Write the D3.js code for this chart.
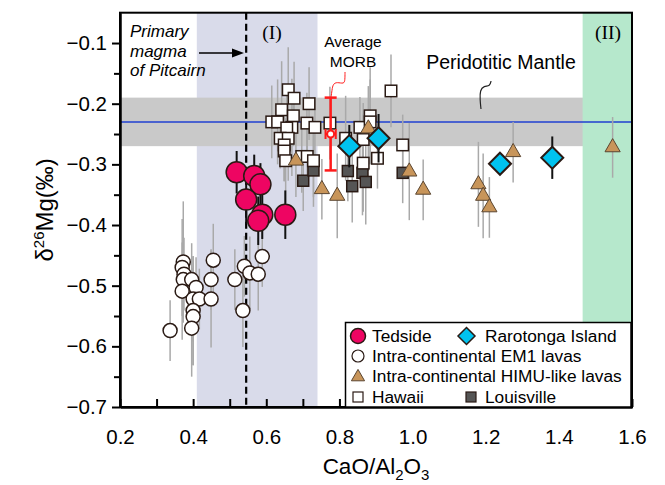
<!DOCTYPE html>
<html>
<head>
<meta charset="utf-8">
<script src="https://cdn.jsdelivr.net/npm/d3@7"></script>
<style>
  body, html { margin: 0; padding: 0; background: #fff; }
  svg { display: block; font-family: "Liberation Sans", Arial, sans-serif; }
</style>
</head>
<body>
<div id="container"></div>
<script>
// ---- data (CaO/Al2O3, d26Mg, 2SD) ----
var em1X = [0.337, 0.373, 0.370, 0.375, 0.373, 0.396, 0.408, 0.370, 0.400, 0.417, 0.449, 0.449, 0.455, 0.514, 0.540, 0.555, 0.578, 0.589, 0.536, 0.400, 0.400, 0.396];
var em1Y = [-0.574, -0.461, -0.470, -0.481, -0.490, -0.490, -0.503, -0.509, -0.522, -0.522, -0.522, -0.490, -0.458, -0.490, -0.468, -0.479, -0.481, -0.452, -0.541, -0.541, -0.551, -0.570];
var em1E = [0.05, 0.10, 0.08, 0.06, 0.07, 0.06, 0.05, 0.08, 0.07, 0.05, 0.08, 0.05, 0.06, 0.05, 0.05, 0.06, 0.06, 0.05, 0.06, 0.09, 0.08, 0.08];

var hawX = [0.660, 0.676, 0.717, 0.642, 0.674, 0.615, 0.631, 0.670, 0.656, 0.711, 0.733, 0.774, 0.638, 0.660, 0.649, 0.649, 0.653, 0.697, 0.712, 0.729, 0.817, 0.856, 0.865, 0.884, 0.884, 0.904, 0.865, 0.941, 0.973];
var hawY = [-0.177, -0.191, -0.200, -0.210, -0.220, -0.230, -0.230, -0.239, -0.240, -0.232, -0.239, -0.232, -0.257, -0.257, -0.268, -0.278, -0.294, -0.287, -0.287, -0.294, -0.257, -0.239, -0.259, -0.220, -0.230, -0.290, -0.298, -0.179, -0.268];
var hawE = [0.07, 0.06, 0.06, 0.08, 0.05, 0.06, 0.07, 0.08, 0.06, 0.05, 0.05, 0.06, 0.05, 0.07, 0.06, 0.05, 0.07, 0.06, 0.05, 0.06, 0.07, 0.05, 0.06, 0.08, 0.07, 0.05, 0.08, 0.06, 0.05];

var louX = [0.701, 0.729, 0.823, 0.835, 0.863, 0.872, 0.973];
var louY = [-0.327, -0.310, -0.311, -0.336, -0.314, -0.329, -0.314];
var louE = [0.05, 0.06, 0.05, 0.06, 0.07, 0.07, 0.05];

var himuX = [0.681, 0.752, 0.794, 0.879, 0.991, 1.029, 1.180, 1.193, 1.210, 1.275, 1.547];
var himuY = [-0.294, -0.341, -0.352, -0.241, -0.312, -0.342, -0.333, -0.352, -0.371, -0.280, -0.272];
var himuE = [0.06, 0.05, 0.07, 0.07, 0.08, 0.05, 0.07, 0.07, 0.05, 0.05, 0.05];

var raroX = [0.827, 0.907, 1.239, 1.382];
var raroY = [-0.270, -0.257, -0.299, -0.289];
var raroE = [0.035, 0.04, 0.015, 0.035];

var tedX = [0.519, 0.567, 0.584, 0.545, 0.589, 0.578, 0.652];
var tedY = [-0.313, -0.319, -0.333, -0.358, -0.383, -0.393, -0.383];
var tedE = [0.035, 0.035, 0.035, 0.04, 0.04, 0.04, 0.04];

var morb = [0.776, -0.25, 0.06, 0.014]; // x, y, 2SD y, 2SD x
var mantleMean = -0.23, mantleLo = -0.27, mantleHi = -0.19;
var zone1 = [0.41, 0.74], zone2 = [1.465, 1.6];
var pitcairnX = 0.545;

var xTicks = [0.2, 0.4, 0.6, 0.8, 1.0, 1.2, 1.4, 1.6];
var yTicks = [-0.7, -0.6, -0.5, -0.4, -0.3, -0.2, -0.1];

var W = 665, H = 485;
var margin = {top: 12.7, right: 33, bottom: 78, left: 120};
var pw = W - margin.left - margin.right, ph = H - margin.top - margin.bottom;

var svg = d3.select("#container").append("svg").attr("width", W).attr("height", H);
var g = svg.append("g").attr("transform", "translate(" + margin.left + "," + margin.top + ")");

var x = d3.scaleLinear().domain([0.2, 1.6]).range([0, pw]);
var y = d3.scaleLinear().domain([-0.7, -0.05]).range([ph, 0]);

function zip(xs, ys, es) { return xs.map(function(v, i) { return {x: v, y: ys[i], e: es[i]}; }); }
var em1 = zip(em1X, em1Y, em1E), haw = zip(hawX, hawY, hawE), lou = zip(louX, louY, louE);
var himu = zip(himuX, himuY, himuE), raro = zip(raroX, raroY, raroE), ted = zip(tedX, tedY, tedE);

// background zones
g.append("rect").attr("x", x(zone1[0])).attr("y", 0).attr("width", x(zone1[1]) - x(zone1[0])).attr("height", ph).attr("fill", "#d9dbea");
g.append("rect").attr("x", 0).attr("y", y(mantleHi)).attr("width", pw).attr("height", y(mantleLo) - y(mantleHi)).attr("fill", "#c9c9c9");
g.append("rect").attr("x", x(zone2[0])).attr("y", 0).attr("width", x(zone2[1]) - x(zone2[0])).attr("height", ph).attr("fill", "#b6e8cc");
g.append("line").attr("x1", 0).attr("x2", pw).attr("y1", y(mantleMean)).attr("y2", y(mantleMean)).attr("stroke", "#1f3fd0").attr("stroke-width", 1.5);

// gray error bars
var grayData = em1.concat(haw, lou, himu);
g.append("g").selectAll("line").data(grayData).enter().append("line")
  .attr("x1", function(d) { return x(d.x); }).attr("x2", function(d) { return x(d.x); })
  .attr("y1", function(d) { return y(d.y - d.e); }).attr("y2", function(d) { return y(d.y + d.e); })
  .attr("stroke", "#a9a9a9").attr("stroke-width", 1.5);

// Pitcairn dashed line
g.append("line").attr("x1", x(pitcairnX)).attr("x2", x(pitcairnX)).attr("y1", 0).attr("y2", ph)
  .attr("stroke", "#000").attr("stroke-width", 2.2).attr("stroke-dasharray", "7,4");

var stroke = "#2a1a14";
function circles(data, r, fill) {
  g.append("g").selectAll("circle").data(data).enter().append("circle")
    .attr("cx", function(d) { return x(d.x); }).attr("cy", function(d) { return y(d.y); })
    .attr("r", r).attr("fill", fill).attr("stroke", stroke).attr("stroke-width", 1.5);
}
function squares(data, s, fill) {
  g.append("g").selectAll("rect").data(data).enter().append("rect")
    .attr("x", function(d) { return x(d.x) - s / 2; }).attr("y", function(d) { return y(d.y) - s / 2; })
    .attr("width", s).attr("height", s).attr("fill", fill).attr("stroke", stroke).attr("stroke-width", 1.5);
}
function blackBars(data) {
  g.append("g").selectAll("line").data(data).enter().append("line")
    .attr("x1", function(d) { return x(d.x); }).attr("x2", function(d) { return x(d.x); })
    .attr("y1", function(d) { return y(d.y - d.e); }).attr("y2", function(d) { return y(d.y + d.e); })
    .attr("stroke", "#111").attr("stroke-width", 2);
}

circles(em1, 7, "#fff");
squares(lou, 11, "#555");
squares(haw, 11.5, "#fff");
g.append("g").selectAll("path").data(himu).enter().append("path")
  .attr("d", d3.symbol(d3.symbolTriangle, 100))
  .attr("transform", function(d) { return "translate(" + x(d.x) + "," + y(d.y) + ")"; })
  .attr("fill", "#c8955a").attr("stroke", "#5a4530").attr("stroke-width", 1);
blackBars(raro);
g.append("g").selectAll("path").data(raro).enter().append("path")
  .attr("d", "M0,-11L11,0L0,11L-11,0Z")
  .attr("transform", function(d) { return "translate(" + x(d.x) + "," + y(d.y) + ")"; })
  .attr("fill", "#00c3ef").attr("stroke", stroke).attr("stroke-width", 2);
blackBars(ted);
circles(ted, 10.5, "#ee0562");

// average MORB
var mx = x(morb[0]), my = y(morb[1]);
var red = "#ff1a1a";
g.append("line").attr("x1", mx).attr("x2", mx).attr("y1", y(morb[1] + morb[2])).attr("y2", y(morb[1] - morb[2])).attr("stroke", red).attr("stroke-width", 2.5);
[morb[1] + morb[2], morb[1] - morb[2]].forEach(function(v) {
  g.append("line").attr("x1", mx - 6).attr("x2", mx + 6).attr("y1", y(v)).attr("y2", y(v)).attr("stroke", red).attr("stroke-width", 2.5);
});
var hx0 = x(morb[0] - morb[3]), hx1 = x(morb[0] + morb[3]);
g.append("line").attr("x1", hx0).attr("x2", hx1).attr("y1", my).attr("y2", my).attr("stroke", red).attr("stroke-width", 2);
[hx0, hx1].forEach(function(v) {
  g.append("line").attr("x1", v).attr("x2", v).attr("y1", my - 5).attr("y2", my + 5).attr("stroke", red).attr("stroke-width", 2);
});
g.append("circle").attr("cx", mx).attr("cy", my).attr("r", 3.5).attr("fill", "#fff").attr("stroke", red).attr("stroke-width", 2);

// axes
var yAxis = d3.axisLeft(y).tickValues(yTicks).tickSize(8).tickSizeOuter(0).tickPadding(5).tickFormat(d3.format(".1f"));
var yMinor = d3.axisLeft(y).tickValues(yTicks.map(function(v) { return v + 0.05; }).filter(function(v) { return v < -0.06; })).tickSize(6).tickSizeOuter(0).tickFormat("");
var xAxis = d3.axisBottom(x).tickValues(xTicks).tickSizeInner(-8).tickSizeOuter(0).tickPadding(22).tickFormat(d3.format(".1f"));
var xMinor = d3.axisBottom(x).tickValues(xTicks.slice(0, -1).map(function(v) { return v + 0.1; })).tickSizeInner(-8).tickSizeOuter(0).tickFormat("");

function styleAxis(sel) {
  sel.selectAll("path").attr("stroke", "#000").attr("stroke-width", 2);
  sel.selectAll("line").attr("stroke", "#000").attr("stroke-width", 2);
  sel.selectAll("text").attr("font-size", 20.5).attr("fill", "#000").attr("font-family", "Liberation Sans, Arial, sans-serif");
}
g.append("g").call(yMinor).call(styleAxis);
g.append("g").call(yAxis).call(styleAxis);
g.append("g").attr("transform", "translate(0," + ph + ")").call(xMinor).call(styleAxis);
g.append("g").attr("transform", "translate(0," + ph + ")").call(xAxis).call(styleAxis);
g.append("rect").attr("x", 0).attr("y", 0).attr("width", pw).attr("height", ph).attr("fill", "none").attr("stroke", "#000").attr("stroke-width", 2);

// axis titles
var xt = svg.append("text").attr("x", margin.left + pw / 2).attr("y", 474).attr("text-anchor", "middle").attr("font-size", 22.5);
xt.append("tspan").text("CaO/Al");
xt.append("tspan").attr("font-size", 15).attr("dy", 6).text("2");
xt.append("tspan").attr("dy", -6).text("O");
xt.append("tspan").attr("font-size", 15).attr("dy", 6).text("3");

var yt = svg.append("text").attr("transform", "translate(53," + (margin.top + ph / 2) + ") rotate(-90)").attr("text-anchor", "middle").attr("font-size", 24);
yt.append("tspan").text("δ");
yt.append("tspan").attr("font-size", 15).attr("dy", -9).text("26");
yt.append("tspan").attr("dy", 9).text("Mg(‰)");

// annotations
var ann = svg.append("g");
["Primary", "magma", "of Pitcairn"].forEach(function(t, i) {
  ann.append("text").attr("x", 130).attr("y", 37 + i * 19.5).attr("font-size", 17).attr("font-style", "italic").text(t);
});
ann.append("line").attr("x1", 199).attr("x2", 236).attr("y1", 53).attr("y2", 53).attr("stroke", "#000").attr("stroke-width", 1.5);
ann.append("path").attr("d", "M244,53L232,48.5L232,57.5Z").attr("fill", "#000");
ann.append("text").attr("x", 272).attr("y", 39).attr("text-anchor", "middle").attr("font-size", 19.5).attr("font-family", "Liberation Serif, Times New Roman, serif").text("(I)");
ann.append("text").attr("x", 608).attr("y", 39).attr("text-anchor", "middle").attr("font-size", 19.5).attr("font-family", "Liberation Serif, Times New Roman, serif").text("(II)");
ann.append("text").attr("x", 353).attr("y", 47).attr("text-anchor", "middle").attr("font-size", 15.5).text("Average");
ann.append("text").attr("x", 353).attr("y", 67).attr("text-anchor", "middle").attr("font-size", 15.5).text("MORB");
ann.append("text").attr("x", 501).attr("y", 69).attr("text-anchor", "middle").attr("font-size", 19.5).text("Peridotitic Mantle");

var squiggle = d3.line().curve(d3.curveBasis);
ann.append("path").attr("d", squiggle([[345, 72], [345, 80], [344, 84], [337, 82], [333, 84], [332, 90], [331, y(morb[1] + morb[2]) + margin.top]]))
  .attr("fill", "none").attr("stroke", red).attr("stroke-width", 1);
ann.append("path").attr("d", squiggle([[491, 81], [490, 86], [484, 86], [480, 90], [480, 100], [481, 109]]))
  .attr("fill", "none").attr("stroke", "#222").attr("stroke-width", 1.2);

// legend
var lg = svg.append("g");
lg.append("rect").attr("x", 345.5).attr("y", 322.5).attr("width", 631 - 345.5).attr("height", 407 - 322.5).attr("fill", "#fff").attr("stroke", "#000").attr("stroke-width", 1.5);
var lfs = 17.3;
function ltext(tx, ty, t) { lg.append("text").attr("x", tx).attr("y", ty + 6).attr("font-size", lfs).text(t); }
lg.append("circle").attr("cx", 358).attr("cy", 336).attr("r", 7.5).attr("fill", "#ee0562").attr("stroke", stroke).attr("stroke-width", 1.5);
ltext(372, 336, "Tedside");
lg.append("path").attr("d", "M466.5,327.5L475,336L466.5,344.5L458,336Z").attr("fill", "#00c3ef").attr("stroke", stroke).attr("stroke-width", 1.5);
ltext(485, 336, "Rarotonga Island");
lg.append("circle").attr("cx", 358).attr("cy", 356).attr("r", 6).attr("fill", "#fff").attr("stroke", stroke).attr("stroke-width", 1.2);
ltext(372, 356, "Intra-continental EM1 lavas");
lg.append("path").attr("d", d3.symbol(d3.symbolTriangle, 75)).attr("transform", "translate(358,377)").attr("fill", "#c8955a").attr("stroke", "#5a4530").attr("stroke-width", 1);
ltext(372, 376, "Intra-continental HIMU-like lavas");
lg.append("rect").attr("x", 353).attr("y", 392).attr("width", 10).attr("height", 10).attr("fill", "#fff").attr("stroke", stroke).attr("stroke-width", 1.2);
ltext(372, 397, "Hawaii");
lg.append("rect").attr("x", 466).attr("y", 392).attr("width", 10).attr("height", 10).attr("fill", "#555").attr("stroke", stroke).attr("stroke-width", 1.2);
ltext(485, 397, "Louisville");
</script>
</body>
</html>
